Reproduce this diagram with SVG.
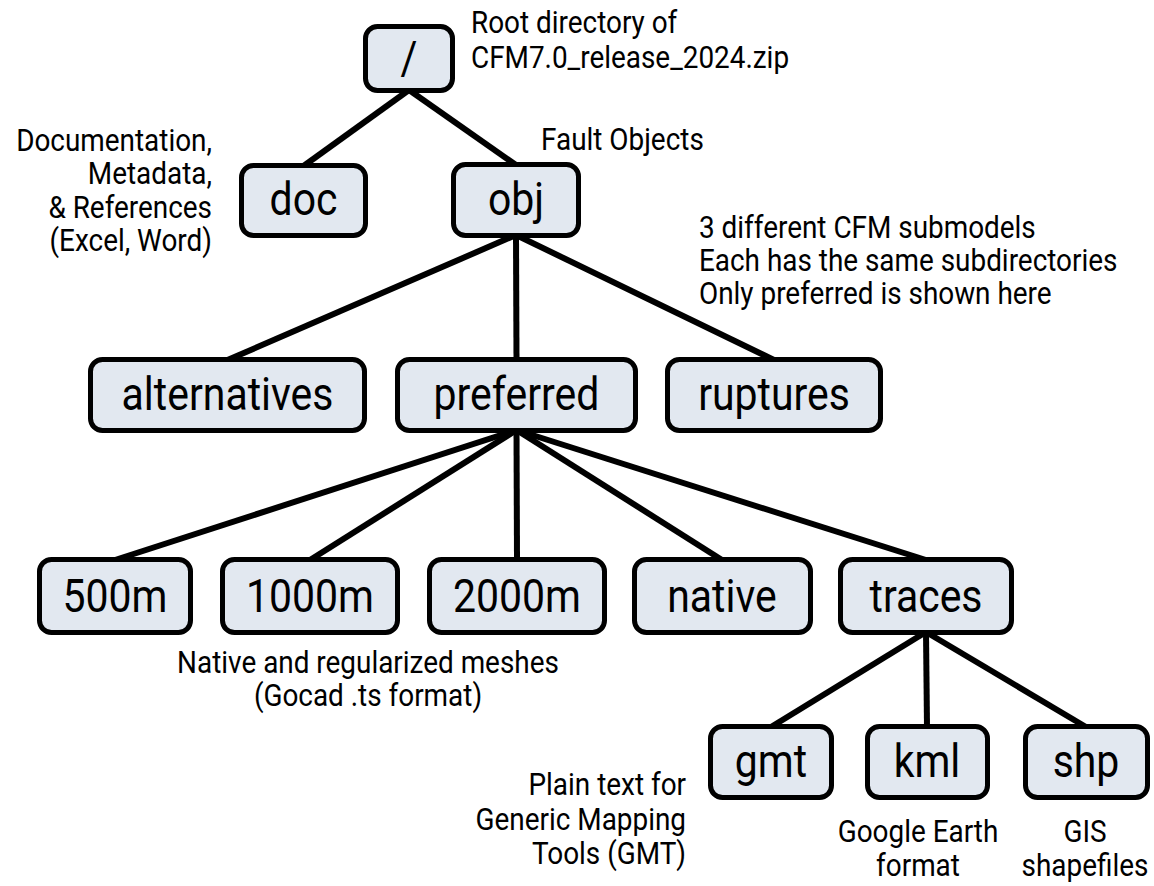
<svg xmlns="http://www.w3.org/2000/svg" width="1154" height="886" viewBox="0 0 1154 886">
<style>
.box{fill:#e2e8f0;stroke:#000;stroke-width:5}
.lbl{font-family:Roboto,"Liberation Sans",sans-serif;font-size:45.5px;fill:#000;text-anchor:middle;transform:scale(0.9,1)}
.note{font-family:Roboto,"Liberation Sans",sans-serif;font-size:31px;fill:#000;transform:scale(0.9,1)}
.mid{text-anchor:middle}
.end{text-anchor:end}
.edge{stroke:#000;stroke-width:6;fill:none}
</style>
<rect width="1154" height="886" fill="#fff"/>
<g id="connectors">
<line class="edge" x1="409" y1="90" x2="303.5" y2="166"/>
<line class="edge" x1="409" y1="90" x2="516" y2="165"/>
<line class="edge" x1="516" y1="235" x2="227.5" y2="360"/>
<line class="edge" x1="516" y1="235" x2="516.5" y2="360"/>
<line class="edge" x1="516" y1="235" x2="774" y2="360"/>
<line class="edge" x1="516.5" y1="430" x2="115" y2="560"/>
<line class="edge" x1="516.5" y1="430" x2="310" y2="560"/>
<line class="edge" x1="516.5" y1="430" x2="517" y2="560"/>
<line class="edge" x1="516.5" y1="430" x2="722" y2="560"/>
<line class="edge" x1="516.5" y1="430" x2="926" y2="560"/>
<line class="edge" x1="926" y1="632" x2="771" y2="727"/>
<line class="edge" x1="926" y1="632" x2="927" y2="727"/>
<line class="edge" x1="926" y1="632" x2="1086" y2="727"/>
</g>
<g id="root">
<rect class="box" x="365.5" y="26.5" width="87" height="64" rx="12"/>
<text class="lbl" x="454.44" y="74">/</text>
</g>
<g id="root-note">
<text class="note" x="523.33" y="33">Root directory of</text>
<text class="note" x="523.33" y="68">CFM7.0_release_2024.zip</text>
</g>
<g id="doc">
<rect class="box" x="241.5" y="165.5" width="124" height="70" rx="12"/>
<text class="lbl" x="337.22" y="215">doc</text>
</g>
<g id="doc-note">
<text class="note end" x="235.56" y="151">Documentation,</text>
<text class="note end" x="235.56" y="184.5">Metadata,</text>
<text class="note end" x="235.56" y="218">&amp; References</text>
<text class="note end" x="235.56" y="251.5">(Excel, Word)</text>
</g>
<g id="obj">
<rect class="box" x="453.5" y="164.5" width="125" height="71" rx="12"/>
<text class="lbl" x="573.33" y="215">obj</text>
</g>
<g id="obj-note">
<text class="note" x="601.11" y="150">Fault Objects</text>
</g>
<g id="submodel-note">
<text class="note" x="776.67" y="238">3 different CFM submodels</text>
<text class="note" x="776.67" y="271">Each has the same subdirectories</text>
<text class="note" x="776.67" y="304">Only preferred is shown here</text>
</g>
<g id="alternatives">
<rect class="box" x="90.5" y="359.5" width="274" height="71" rx="12"/>
<text class="lbl" x="252.78" y="410">alternatives</text>
</g>
<g id="preferred">
<rect class="box" x="397.5" y="359.5" width="238" height="71" rx="12"/>
<text class="lbl" x="573.89" y="410">preferred</text>
</g>
<g id="ruptures">
<rect class="box" x="667.5" y="359.5" width="213" height="71" rx="12"/>
<text class="lbl" x="860" y="410">ruptures</text>
</g>
<g id="m500">
<rect class="box" x="39.5" y="559.5" width="151" height="73" rx="12"/>
<text class="lbl" x="127.78" y="612">500m</text>
</g>
<g id="m1000">
<rect class="box" x="222.5" y="559.5" width="175" height="73" rx="12"/>
<text class="lbl" x="344.44" y="612">1000m</text>
</g>
<g id="m2000">
<rect class="box" x="429.5" y="559.5" width="175" height="73" rx="12"/>
<text class="lbl" x="574.44" y="612">2000m</text>
</g>
<g id="native">
<rect class="box" x="634.5" y="559.5" width="176" height="73" rx="12"/>
<text class="lbl" x="802.22" y="612">native</text>
</g>
<g id="traces">
<rect class="box" x="840.5" y="559.5" width="171" height="73" rx="12"/>
<text class="lbl" x="1028.89" y="612">traces</text>
</g>
<g id="mesh-note">
<text class="note mid" x="408.89" y="673">Native and regularized meshes</text>
<text class="note mid" x="408.89" y="706">(Gocad .ts format)</text>
</g>
<g id="gmt">
<rect class="box" x="710.5" y="726.5" width="121" height="71" rx="12"/>
<text class="lbl" x="856.67" y="777">gmt</text>
</g>
<g id="kml">
<rect class="box" x="867.5" y="726.5" width="120" height="71" rx="12"/>
<text class="lbl" x="1030" y="777">kml</text>
</g>
<g id="shp">
<rect class="box" x="1025.5" y="726.5" width="122" height="71" rx="12"/>
<text class="lbl" x="1206.67" y="777">shp</text>
</g>
<g id="gmt-note">
<text class="note end" x="762.22" y="795">Plain text for</text>
<text class="note end" x="762.22" y="830">Generic Mapping</text>
<text class="note end" x="762.22" y="864">Tools (GMT)</text>
</g>
<g id="kml-note">
<text class="note mid" x="1020" y="842">Google Earth</text>
<text class="note mid" x="1020" y="876">format</text>
</g>
<g id="shp-note">
<text class="note mid" x="1205.56" y="842">GIS</text>
<text class="note mid" x="1205.56" y="876">shapefiles</text>
</g>
</svg>
